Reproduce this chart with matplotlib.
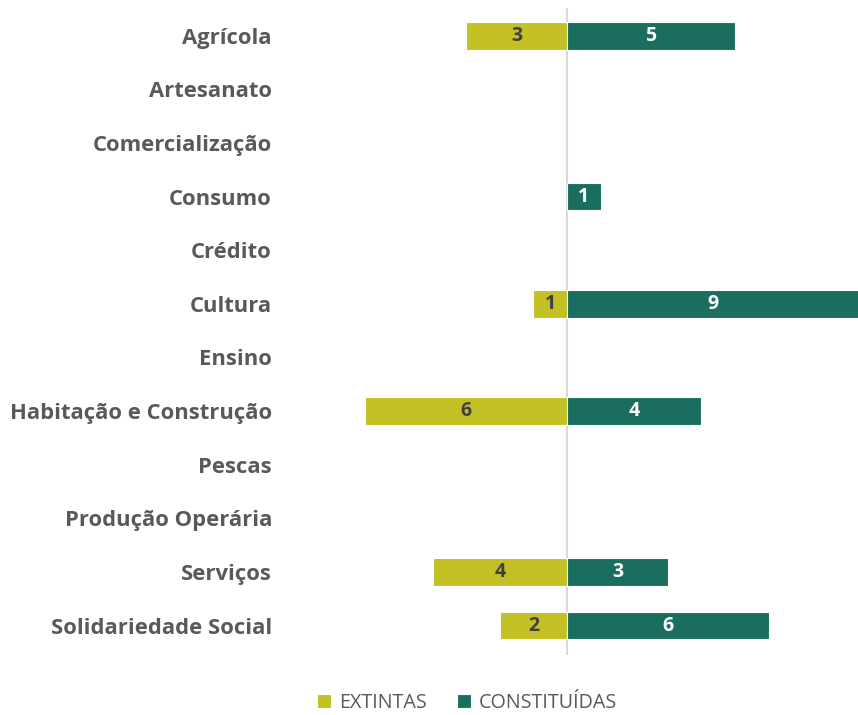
import numpy as np
import matplotlib.pyplot as plt

categorias = ["Agrícola", "Artesanato", "Comercialização", "Consumo", "Crédito",
              "Cultura", "Ensino", "Habitação e Construção", "Pescas",
              "Produção Operária", "Serviços", "Solidariedade Social"]
extintas = [3, 0, 0, 0, 0, 1, 0, 6, 0, 0, 4, 2]
constituidas = [5, 0, 0, 1, 0, 9, 0, 4, 0, 0, 3, 6]

cor_ext = "#C3C024"
cor_con = "#1A6E5F"
cinza = "#595959"

plt.rcParams['font.family'] = ['Open Sans', 'DejaVu Sans']

fig = plt.figure(figsize=(8.58, 7.15), dpi=100)
ax = fig.add_axes([272 / 858, 1 - 655 / 715, 586 / 858, 647 / 715])

y = np.arange(len(categorias))
ax.axvline(0, color="#D9D9D9", lw=1.5, zorder=1)

lw_ext = [0.8 if v else 0 for v in extintas]
lw_con = [0.8 if v else 0 for v in constituidas]
b1 = ax.barh(y, [-v for v in extintas], height=0.51, color=cor_ext,
             edgecolor="white", linewidth=lw_ext, zorder=2)
b2 = ax.barh(y, constituidas, height=0.51, color=cor_con,
             edgecolor="white", linewidth=lw_con, zorder=2)

for i in range(len(categorias)):
    if extintas[i]:
        ax.text(-extintas[i] / 2, y[i], str(extintas[i]), ha="center", va="center",
                fontsize=14, fontweight="bold", color="#404040", zorder=3)
    if constituidas[i]:
        xc = min(constituidas[i], 8.66) / 2
        ax.text(xc, y[i], str(constituidas[i]), ha="center", va="center",
                fontsize=14, fontweight="bold", color="white", zorder=3)

ax.set_xlim(-8.78, 8.66)
ax.set_ylim(len(categorias) - 0.5 + 0.05, -0.5 - 0.02)
ax.set_yticks(y)
ax.set_yticklabels(categorias, fontsize=15.8, fontweight="bold", color=cinza)
ax.tick_params(axis="y", length=0, pad=0)
ax.set_xticks([])
for s in ax.spines.values():
    s.set_visible(False)

fig.legend([b1, b2], ["EXTINTAS", "CONSTITUÍDAS"], loc="center",
           bbox_to_anchor=(467 / 858, 1 - 703 / 715), ncol=2, frameon=False,
           fontsize=14.2, handlelength=0.75, handleheight=0.75, handletextpad=0.4,
           columnspacing=1.5, labelcolor=cinza)

fig.savefig("out.png", dpi=100)
